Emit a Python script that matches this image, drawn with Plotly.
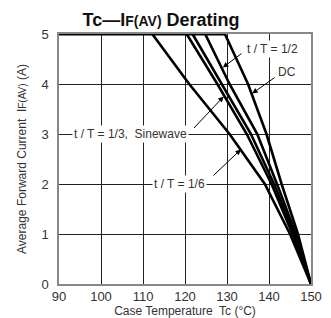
import plotly.graph_objects as go

# Data (Tc in degC, IF(AV) in A)
current_levels = [5, 4, 3, 2, 1, 0]
tc_1_6 = [112.2, 121.0, 130.6, 139.0, 145.0, 150.0]
tc_1_3 = [120.4, 127.7, 134.7, 140.6, 145.6, 150.0]
tc_sine = [121.8, 128.7, 135.7, 141.2, 146.0, 150.0]
tc_1_2 = [124.8, 130.6, 137.2, 141.9, 146.4, 150.0]
tc_dc = [129.5, 135.0, 139.4, 143.0, 146.9, 150.0]
flat_start = 90
x_ticks = [90, 100, 110, 120, 130, 140, 150]
y_ticks = [0, 1, 2, 3, 4, 5]

curves = {"t/T=1/6": tc_1_6, "t/T=1/3": tc_1_3, "Sinewave": tc_sine,
          "t/T=1/2": tc_1_2, "DC": tc_dc}

fig = go.Figure()
for name, xs in curves.items():
    fig.add_trace(go.Scatter(x=xs, y=current_levels, mode="lines", name=name,
                             line=dict(color="black", width=2.6),
                             showlegend=False, hoverinfo="skip"))
# flat top segment at full current
fig.add_trace(go.Scatter(x=[flat_start, max(c[0] for c in curves.values())],
                         y=[current_levels[0], current_levels[0]], mode="lines",
                         line=dict(color="black", width=3), showlegend=False))

font = "Liberation Sans, Arial, sans-serif"
tc = "#333333"

def arrow(x, y, ax, ay):
    fig.add_annotation(x=x, y=y, ax=ax, ay=ay, xref="x", yref="y", axref="x", ayref="y",
                       text="", showarrow=True, arrowhead=2, arrowsize=1.1, arrowwidth=1,
                       arrowcolor="black")

def label(x, y, text):
    fig.add_annotation(x=x, y=y, xref="x", yref="y", text=text, showarrow=False,
                       font=dict(family=font, size=12, color=tc), bgcolor="white", borderpad=1)

arrow(129.0, 4.33, 133.8, 4.63)
label(140.8, 4.71, "t / T = 1/2")
arrow(136.0, 3.81, 141.7, 4.15)
label(144.4, 4.24, "DC")
arrow(129.2, 3.75, 121.8, 3.09)
label(107.1, 3.0, "t / T = 1/3,  Sinewave")
arrow(133.3, 2.69, 126.4, 2.14)
label(118.8, 2.0, "t / T = 1/6")

fig.update_layout(
    width=323, height=310,
    margin=dict(l=51, r=20, t=26, b=34),
    paper_bgcolor="white", plot_bgcolor="white",
    title=dict(text="<b>Tc\u2014I<span style='font-size:14px'>F(AV)</span> Derating</b>",
               x=0.474, xanchor="center", y=0.962, yanchor="middle",
               font=dict(family=font, size=18, color="#111111")),
    font=dict(family=font, size=13, color=tc),
)
fig.update_xaxes(range=[90, 150], tickvals=x_ticks, showgrid=True, gridcolor="#222222",
                 gridwidth=1, zeroline=False, showline=True, linecolor="#888888", linewidth=1.5,
                 mirror=True, ticks="", tickfont=dict(size=13, color=tc), automargin=False,
                 title=dict(text="Case Temperature  Tc (°C)", font=dict(size=12, color=tc), standoff=0))
fig.update_yaxes(range=[0, 5], tickvals=y_ticks, showgrid=True, gridcolor="#222222",
                 gridwidth=1, zeroline=False, showline=True, linecolor="#888888", linewidth=1.5,
                 mirror=True, ticks="", tickfont=dict(size=13, color=tc), automargin=False,
                 ticklabelstandoff=6,
                 title=dict(text="Average Forward Current  I<span style='font-size:10px'>F(AV)</span> (A)",
                            font=dict(size=12, color=tc), standoff=12))

fig.write_html("out.html")
